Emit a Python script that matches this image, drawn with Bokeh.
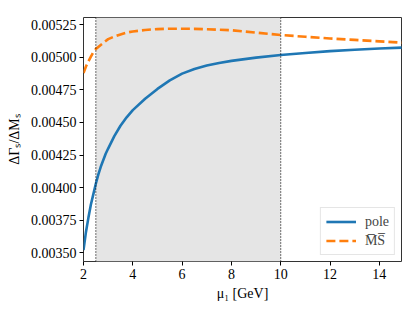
from bokeh.plotting import figure
from bokeh.models import (BoxAnnotation, Span, Legend, LegendItem, FixedTicker,
                          PrintfTickFormatter, Range1d)
from bokeh.embed import file_html
from bokeh.resources import INLINE

# data
mu = [2.0, 2.1, 2.2, 2.3, 2.4, 2.5, 2.6, 2.7, 2.8, 2.9, 3.0, 3.25, 3.5, 3.75, 4.0,
      4.5, 5.0, 5.5, 6.0, 6.5, 7.0, 7.5, 8.0, 9.0, 10.0, 11.0, 12.0, 13.0, 14.0, 15.0]
pole = [0.00352, 0.00366, 0.00377, 0.00387, 0.00395, 0.00403, 0.00410, 0.00416, 0.00421,
        0.00426, 0.00430, 0.004395, 0.004475, 0.00454, 0.004595,
        0.004682, 0.004758, 0.004823, 0.004875, 0.00491, 0.004937, 0.004957, 0.004973,
        0.004998, 0.005018, 0.005034, 0.005048, 0.005059, 0.005068, 0.005075]
msbar = [0.00488, 0.00493, 0.00497, 0.005005, 0.00504, 0.005064, 0.00508, 0.005095,
         0.00511, 0.005125, 0.00514, 0.00516, 0.005176, 0.00519, 0.005199,
         0.00521, 0.005217, 0.00522, 0.00522, 0.005219, 0.005216, 0.005212, 0.005208,
         0.00519, 0.005172, 0.005158, 0.005145, 0.005134, 0.005123, 0.005112]
x_ticks = [2, 4, 6, 8, 10, 12, 14]
y_ticks = [0.00350, 0.00375, 0.00400, 0.00425, 0.00450, 0.00475, 0.00500, 0.00525]
band = (2.5, 10)

FONT = "Liberation Serif"

p = figure(width=410, height=306, output_backend="svg", toolbar_location=None,
           x_range=Range1d(2, 14.9), y_range=Range1d(0.003433, 0.005306),
           min_border_left=83, min_border_right=9, min_border_top=17, min_border_bottom=45)
p.xgrid.visible = False
p.ygrid.visible = False
p.outline_line_color = "#333333"
p.outline_line_width = 1

p.add_layout(BoxAnnotation(left=band[0], right=band[1], fill_color="#e5e5e5",
                           fill_alpha=1, line_color=None, level="underlay"))
for xv in band:
    p.add_layout(Span(location=xv, dimension="height", line_color="black",
                      line_width=1.1, line_dash="1 2"))

r1 = p.line(mu, pole, line_color="#1f77b4", line_width=2.6)
r2 = p.line(mu, msbar, line_color="#ff7f0e", line_width=2.6, line_dash="9 4")

for ax in (p.xaxis, p.yaxis):
    ax.axis_line_color = None
    ax.major_tick_out = 4
    ax.major_tick_in = 0
    ax.minor_tick_line_color = None
    ax.major_tick_line_color = "black"
    ax.major_label_text_font = FONT
    ax.major_label_text_font_size = "14px"
    ax.major_label_text_color = "black"
    ax.axis_label_text_font = FONT
    ax.axis_label_text_font_size = "14px"
    ax.axis_label_text_font_style = "normal"
    ax.axis_label_text_color = "black"
p.xaxis.ticker = FixedTicker(ticks=x_ticks)
p.yaxis.ticker = FixedTicker(ticks=y_ticks)
p.yaxis.formatter = PrintfTickFormatter(format="%.5f")
p.xaxis.axis_label = "μ₁ [GeV]"
p.yaxis.axis_label = "ΔΓₛ/ΔMₛ"
p.xaxis.axis_label_standoff = 4
p.yaxis.axis_label_standoff = 6
p.xaxis.major_label_standoff = 3
p.yaxis.major_label_standoff = 3

legend = Legend(items=[LegendItem(label="pole", renderers=[r1]),
                       LegendItem(label="M\u0305S\u0305", renderers=[r2])],
                location="bottom_right")
legend.label_text_font = FONT
legend.label_text_font_size = "14px"
legend.border_line_color = "#cccccc"
legend.border_line_width = 1
legend.background_fill_alpha = 0.8
legend.margin = 6
legend.padding = 5
legend.spacing = 2
legend.glyph_width = 30
legend.glyph_height = 17
legend.label_height = 17
legend.label_standoff = 9
p.add_layout(legend)

open("out.html", "w").write(file_html(p, INLINE))
